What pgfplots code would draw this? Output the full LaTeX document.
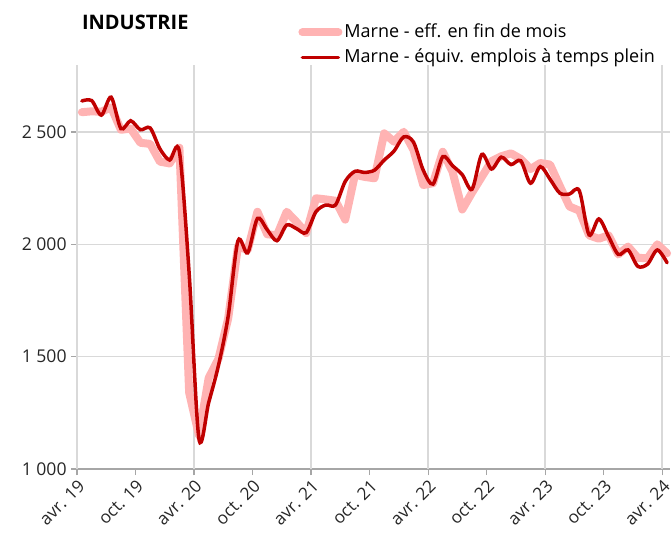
\documentclass[border=0pt]{standalone}
\usepackage{pgfplots}
\pgfplotsset{compat=1.18}
\usepackage{fontspec}
\setmainfont{Open Sans}
\definecolor{etp}{HTML}{C00000}
\definecolor{eff}{HTML}{FFB3B3}
\definecolor{axgray}{HTML}{A6A6A6}
\definecolor{gridgray}{HTML}{D9D9D9}

% i = mois depuis avril 2019
\pgfplotstableread{
i  eff   etp
0  2588  2638
1  2592  2640
2  2590  2575
3  2610  2655
4  2510  2515
5  2515  2550
6  2452  2510
7  2447  2518
8  2368  2425
9  2360  2375
10 2430  2412
11 1340  1870
12 1150  1135
13 1405  1295
14 1490  1460
15 1670  1680
16 1990  2015
17 1975  1962
18 2145  2115
19 2045  2065
20 2040  2016
21 2145  2086
22 2100  2070
23 2050  2052
24 2205  2145
25 2200  2175
26 2194  2175
27 2110  2280
28 2310  2325
29 2300  2320
30 2294  2330
31 2494  2375
32 2457  2415
33 2501  2478
34 2420  2455
35 2264  2330
36 2272  2268
37 2412  2390
38 2323  2350
39 2155  2310
40 2230  2245
41 2300  2400
42 2370  2335
43 2392  2388
44 2405  2355
45 2380  2372
46 2335  2272
47 2362  2346
48 2355  2290
49 2260  2228
50 2168  2224
51 2150  2239
52 2040  2042
53 2025  2113
54 2040  2035
55 1955  1955
56 1990  1975
57 1940  1902
58 1938  1912
59 2000  1975
60 1960  1918
}\marne

\begin{document}
\begin{tikzpicture}
\begin{axis}[
    scale only axis,
    width=296.5pt, height=202.2pt,
    xmin=-0.5, xmax=60.3,
    ymin=1000, ymax=2800,
    clip=false,
    axis x line*=bottom, axis y line*=left,
    axis line style={axgray, line width=0.75pt, -},
    xtick={-0.5,5.5,11.5,17.5,23.5,29.5,35.5,41.5,47.5,53.5,59.5},
    xticklabels={avr. 19,oct. 19,avr. 20,oct. 20,avr. 21,oct. 21,avr. 22,oct. 22,avr. 23,oct. 23,avr. 24},
    ytick={1000,1500,2000,2500},
    yticklabels={1 000,1 500,2 000,2 500},
    tick align=outside,
    major tick length=3pt,
    tick style={axgray, line width=0.6pt},
    ymajorgrids,
    grid style={gridgray, line width=0.75pt},
    extra x ticks={-0.5,11.5,23.5,35.5,47.5,59.5},
    extra x tick labels={},
    extra x tick style={xmajorgrids=true},
    xticklabel style={rotate=45, anchor=north east, inner sep=1pt,
        font=\fontsize{8.6}{10}\selectfont, text=black!85},
    yticklabel style={font=\fontsize{8.8}{10}\selectfont, text=black!85, inner sep=2pt},
    no markers,
    legend style={at={(rel axis cs:0,1)}, anchor=north west,
        xshift=110.5pt, yshift=21.5pt, draw=none, fill=none,
        font=\fontsize{9}{10}\selectfont, row sep=2.2pt,
        inner sep=0pt, nodes={inner sep=1pt}},
    legend cell align=left,
    legend image code/.code={\draw[#1] (0pt,0pt) -- (18pt,0pt);},
]
\addplot[eff, line width=4pt, line join=round, line cap=round] table[x=i, y=eff] {\marne};
\addplot[etp, line width=1.75pt, smooth, line cap=round] table[x=i, y=etp] {\marne};
\legend{Marne - eff. en fin de mois, Marne - équiv. emplois à temps plein}
\coordinate (sw) at (rel axis cs:0,0);
\coordinate (ne) at (rel axis cs:1,1);
\coordinate (nw) at (rel axis cs:0,1);
\end{axis}
\node[anchor=base west, font=\bfseries\fontsize{10}{12}\selectfont] at ([xshift=-1pt, yshift=17.3pt]nw) {INDUSTRIE};
\pgfresetboundingbox
\path[use as bounding box] ([xshift=-38.5pt, yshift=-32pt]sw) rectangle ([xshift=1pt, yshift=32.3pt]ne);
\end{tikzpicture}
\end{document}
